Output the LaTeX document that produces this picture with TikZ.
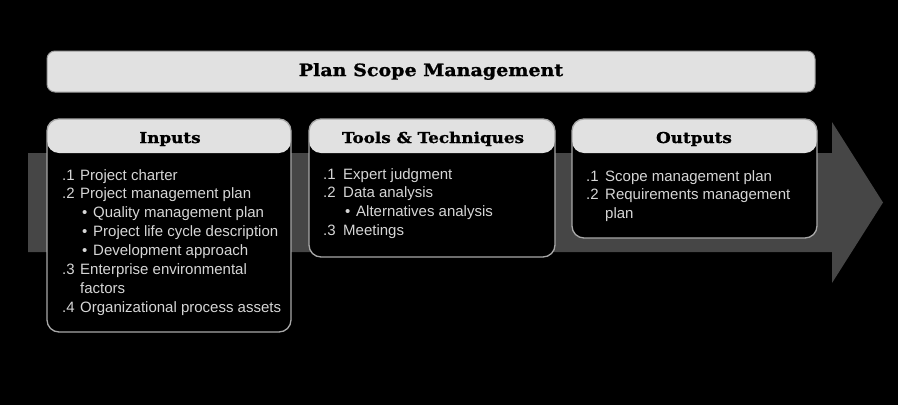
\documentclass[tikz,border=0pt]{standalone}
\usepackage{fontspec}
\setmainfont{Liberation Sans}
\newfontfamily\slab[FakeStretch=1.12,FakeBold=1.2]{DejaVu Serif Bold}
\usetikzlibrary{calc}
\definecolor{hdrgray}{HTML}{E1E1E1}
\definecolor{titleline}{HTML}{9A9A9A}
\definecolor{boxline}{HTML}{A8A8A8}
\definecolor{arrowgray}{HTML}{464646}
\definecolor{bodytext}{HTML}{D6D6D6}
\tikzset{
  titlebar/.style={draw=titleline, line width=1pt, fill=hdrgray, rounded corners=8pt,
    inner sep=0pt, minimum width=768pt, minimum height=41pt,
    font=\slab\fontsize{17}{20}\selectfont, text=black},
  boxframe/.style={draw=boxline, line width=1.3pt, fill=black, rounded corners=12pt,
    inner sep=0pt,
    path picture={\fill[hdrgray] (path picture bounding box.north west) rectangle
      ([yshift=-34pt]path picture bounding box.east |- path picture bounding box.north);}},
  hdrtext/.style={font=\slab\fontsize{15}{18}\selectfont, text=black, inner sep=0pt, anchor=base},
  bodytxt/.style={font=\fontsize{15}{18.9}\selectfont, text=bodytext, inner sep=0pt, anchor=base west},
}
\newcommand{\bul}[1]{\makebox[13pt][l]{\hspace{2pt}\textbullet}#1}
\begin{document}
\begin{tikzpicture}[x=1pt,y=-1pt]
\fill[black] (0,0) rectangle (898,405);
\useasboundingbox (0,0) rectangle (898,405);
% process arrow
\fill[arrowgray] (28,153) -- (832,153) -- (832,122) -- (883,202.5) -- (832,283) -- (832,252) -- (28,252) -- cycle;
% title
\node[titlebar] (title) at (431,71.5) {Plan Scope Management};
% boxes
\node[boxframe, minimum width=244pt, minimum height=213pt] (inbox) at (169,225.5) {};
\node[boxframe, minimum width=246pt, minimum height=138pt] (toolbox) at (432,188) {};
\node[boxframe, minimum width=245pt, minimum height=119pt] (outbox) at (694.5,178.5) {};
% headers
\node[hdrtext] (inh) at (170,143) {Inputs};
\node[hdrtext] (toolh) at (433,143) {Tools \& Techniques};
\node[hdrtext] (outh) at (694,143) {Outputs};
% bodies
\node[bodytxt] (inbody) at (62,180) {\begin{tabular}[t]{@{}p{18pt}@{}l@{}}
.1 & Project charter\\
.2 & Project management plan\\
 & \bul{Quality management plan}\\
 & \bul{Project life cycle description}\\
 & \bul{Development approach}\\
.3 & Enterprise environmental\\
 & factors\\
.4 & Organizational process assets
\end{tabular}};
\node[bodytxt] (toolbody) at (323,179) {\begin{tabular}[t]{@{}p{20pt}@{}l@{}}
.1 & Expert judgment\\
.2 & Data analysis\\
 & \bul{Alternatives analysis}\\
.3 & Meetings
\end{tabular}};
\node[bodytxt] (outbody) at (586,181) {\begin{tabular}[t]{@{}p{19pt}@{}l@{}}
.1 & Scope management plan\\
.2 & Requirements management\\
 & plan
\end{tabular}};
\end{tikzpicture}
\end{document}
